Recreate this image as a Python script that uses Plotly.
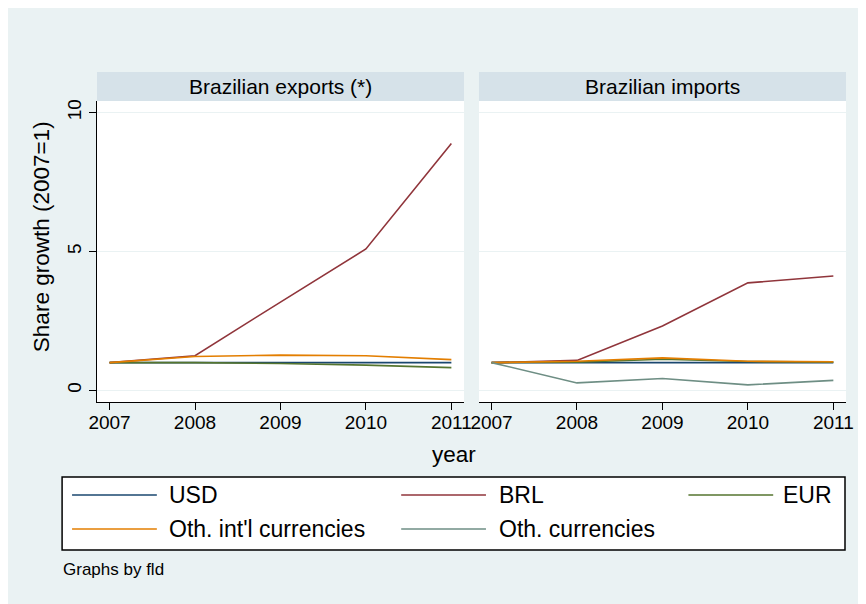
import plotly.graph_objects as go

years = [2007, 2008, 2009, 2010, 2011]
panels = ["Brazilian exports (*)", "Brazilian imports"]
series = ["USD", "BRL", "EUR", "Oth. int'l currencies", "Oth. currencies"]
colors = ["#1a476f", "#90353b", "#55752f", "#e37e00", "#6e8e84"]

exp_usd = [1.0, 1.0, 1.0, 1.0, 1.0]
exp_brl = [1.0, 1.25, 3.18, 5.09, 8.89]
exp_eur = [1.0, 1.0, 0.97, 0.91, 0.82]
exp_oth_intl = [1.0, 1.22, 1.27, 1.25, 1.11]
exp_oth = None  # not shown in exports

imp_usd = [1.0, 1.0, 1.0, 1.0, 1.0]
imp_brl = [1.0, 1.08, 2.32, 3.87, 4.12]
imp_eur = [1.0, 1.02, 1.12, 1.04, 1.02]
imp_oth_intl = [1.0, 1.05, 1.17, 1.05, 1.03]
imp_oth = [1.0, 0.27, 0.43, 0.20, 0.36]

y_ticks = [0, 5, 10]

panel_data = [
    [exp_usd, exp_brl, exp_eur, exp_oth_intl, exp_oth],
    [imp_usd, imp_brl, imp_eur, imp_oth_intl, imp_oth],
]

OFF = 8  # page body margin
W, H = 858, 596
ML, MR, MT, MB = 89, 18, 93, 202
PW = W - ML - MR
PH = H - MT - MB


def xp(px):
    return (px - OFF - ML) / PW


def yp(py):
    return (H - MB - (py - OFF)) / PH


BG = "#eaf2f3"
STRIP = "#d6e2e9"
FONT = "Liberation Sans, Arial, sans-serif"

fig = go.Figure()

dom1 = [0, xp(465)]
dom2 = [xp(480), 1]

for pi, data in enumerate(panel_data):
    for si, vals in enumerate(data):
        if vals is None:
            continue
        fig.add_trace(go.Scatter(
            x=years, y=vals, mode="lines", name=series[si],
            line=dict(color=colors[si], width=1.6),
            xaxis="x" if pi == 0 else "x2",
            yaxis="y" if pi == 0 else "y2",
            showlegend=False,
        ))

xr = [2006.853, 2011.148]
yr = [-0.417, 10.417]

common_x = dict(range=xr, tickvals=years, ticktext=[str(y) for y in years],
                showline=True, linecolor="black", linewidth=1,
                ticks="outside", ticklen=7, tickcolor="black",
                ticklabelstandoff=-4,
                showgrid=False, zeroline=False,
                tickfont=dict(family=FONT, size=19, color="black"))

fig.update_layout(
    width=W, height=H,
    margin=dict(l=ML, r=MR, t=MT, b=MB, pad=0),
    paper_bgcolor=BG,
    plot_bgcolor="rgba(0,0,0,0)",
    showlegend=False,
    font=dict(family=FONT, color="black"),
    xaxis=dict(domain=dom1, anchor="y", **common_x),
    xaxis2=dict(domain=dom2, anchor="y2", **common_x),
    yaxis=dict(domain=[0, 1], range=yr, tickvals=y_ticks,
               showline=True, linecolor="black", linewidth=1,
               ticks="outside", ticklen=7, tickcolor="black",
               tickangle=-90, showgrid=True, gridcolor=BG, gridwidth=1,
               zeroline=False,
               tickfont=dict(family=FONT, size=19, color="black")),
    yaxis2=dict(domain=[0, 1], range=yr, anchor="x2", tickvals=y_ticks,
                showticklabels=False, showline=False, ticks="",
                showgrid=True, gridcolor=BG, gridwidth=1, zeroline=False),
)

shapes = []
# plot region backgrounds and strips
for d in (dom1, dom2):
    shapes.append(dict(type="rect", xref="paper", yref="paper", layer="below",
                       x0=d[0], x1=d[1], y0=0, y1=1,
                       fillcolor="white", line=dict(width=0)))
    shapes.append(dict(type="rect", xref="paper", yref="paper", layer="below",
                       x0=d[0], x1=d[1], y0=1, y1=yp(72),
                       fillcolor=STRIP, line=dict(width=0)))

annotations = []
for d, title in zip((dom1, dom2), panels):
    annotations.append(dict(text=title, xref="paper", yref="paper",
                            x=(d[0] + d[1]) / 2, y=yp(86.5), showarrow=False,
                            xanchor="center", yanchor="middle",
                            font=dict(family=FONT, size=21, color="black")))

annotations.append(dict(text="year", xref="paper", yref="paper",
                        x=xp(455), y=yp(454), showarrow=False,
                        xanchor="center", yanchor="middle",
                        font=dict(family=FONT, size=22.5, color="black")))
annotations.append(dict(text="Share growth (2007=1)", xref="paper", yref="paper",
                        x=xp(41), y=yp(237), showarrow=False, textangle=-90,
                        xanchor="center", yanchor="middle",
                        font=dict(family=FONT, size=22.5, color="black")))
annotations.append(dict(text="Graphs by fld", xref="paper", yref="paper",
                        x=xp(61), y=yp(569), showarrow=False,
                        xanchor="left", yanchor="middle",
                        font=dict(family=FONT, size=17, color="black")))

# legend box
shapes.append(dict(type="rect", xref="paper", yref="paper", layer="above",
                   x0=xp(62), x1=xp(847), y0=yp(550), y1=yp(477),
                   fillcolor="white", line=dict(color="black", width=1.5)))
legend_pos = [
    (72, 157, 167, 495, "left"),
    (402, 487, 498, 495, "left"),
    (690, 775, 836, 495, "right"),
    (72, 157, 167, 529, "left"),
    (402, 487, 498, 529, "left"),
]
for (lx0, lx1, tx, ty, anch), name, col in zip(legend_pos, series, colors):
    shapes.append(dict(type="line", xref="paper", yref="paper", layer="above",
                       x0=xp(lx0), x1=xp(lx1), y0=yp(ty), y1=yp(ty),
                       line=dict(color=col, width=1.6)))
    annotations.append(dict(text=name, xref="paper", yref="paper",
                            x=xp(tx), y=yp(ty), showarrow=False,
                            xanchor=anch, yanchor="middle",
                            font=dict(family=FONT, size=23, color="black")))

fig.update_layout(shapes=shapes, annotations=annotations)
fig.write_html("out.html")
